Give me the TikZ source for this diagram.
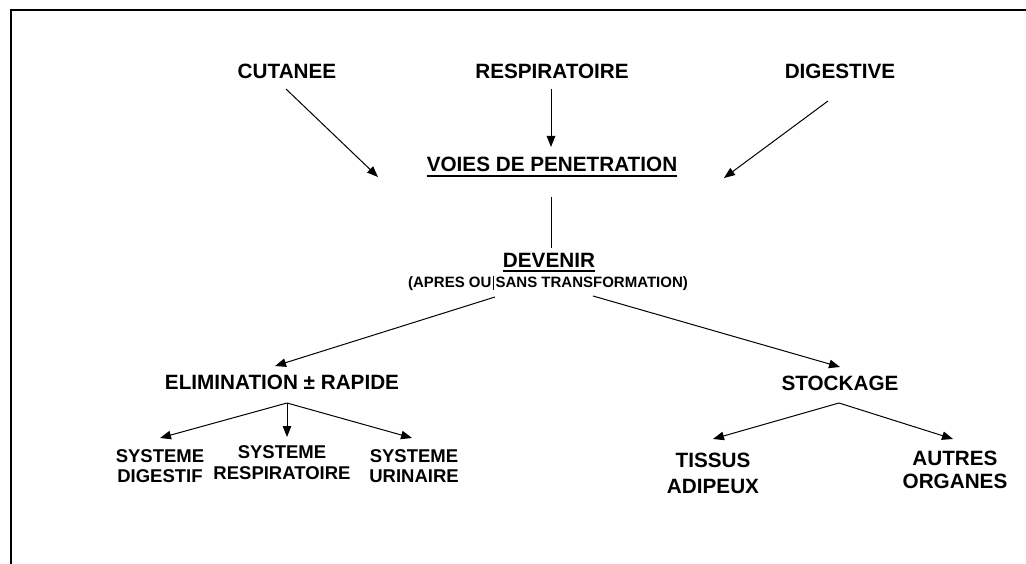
\documentclass[tikz,border=0pt]{standalone}
\usepackage{fontspec}
\setmainfont{Liberation Sans}
\usetikzlibrary{arrows.meta,calc}
\begin{document}
\begin{tikzpicture}[x=1pt,y=-1pt,
  lbl/.style={inner sep=0pt,font=\fontsize{20.7}{20}\selectfont\bfseries},
  two/.style={lbl,align=center},
  sys/.style={inner sep=0pt,align=center,font=\fontsize{18.5}{19.5}\selectfont\bfseries},
  small/.style={inner sep=0pt,font=\fontsize{15}{16}\selectfont\bfseries},
  arr/.style={line width=1pt,-{Triangle[length=11pt,width=8.5pt]}},
  link/.style={line width=1pt},
  ulline/.style={line width=1.8pt},
  frame/.style={line width=2pt}]
\useasboundingbox (0,0) rectangle (1026,564);
\draw[frame] (11,564) -- (11,10) -- (1026,10);

\node[lbl] (cut) at (287,71) {CUTANEE};
\node[lbl] (resp) at (552,71) {RESPIRATOIRE};
\node[lbl] (dig) at (840,71) {DIGESTIVE};
\node[lbl] (voies) at (552,164) {VOIES DE PENETRATION};
\node[lbl] (dev) at (549,260) {DEVENIR};
\node[small] (sub) at (548,283) {(APRES OU\makebox[0.278em]{\rule[-2.5pt]{0.8pt}{14pt}}SANS TRANSFORMATION)};
\node[lbl] (elim) at (282,382) {ELIMINATION ± RAPIDE};
\node[lbl] (stock) at (840,383) {STOCKAGE};
\node[sys] (sdig) at (160,466) {SYSTEME\\DIGESTIF};
\node[sys] (sresp) at (282,463) {SYSTEME\\[1.5pt]RESPIRATOIRE};
\node[sys] (suri) at (414,466) {SYSTEME\\URINAIRE};
\node[two] (tis) at (713,473) {TISSUS\\[6pt]ADIPEUX};
\node[two] (aut) at (955,469.5) {AUTRES\\[3pt]ORGANES};

\draw[ulline] ($(voies.south west)+(0,4.5)$) -- ($(voies.south east)+(0,4.5)$);
\draw[ulline] ($(dev.south west)+(0,3.5)$) -- ($(dev.south east)+(0,3.5)$);

\draw[arr] ($(cut)+(-1,18)$) -- ($(voies)+(-174,13)$);
\draw[arr] ($(resp)+(-1,18)$) -- ($(voies)+(-1,-17)$);
\draw[arr] ($(dig)+(-12,30)$) -- ($(voies)+(172,14)$);
\draw[link] ($(voies)+(-1,33)$) -- ($(dev)+(2,-12)$);
\draw[arr] ($(dev)+(-54,37)$) -- ($(elim)+(-7,-16)$);
\draw[arr] ($(dev)+(44,36)$) -- ($(stock)+(0,-16)$);
\draw[arr] ($(elim)+(5,21)$) -- ($(sdig)+(0,-28)$);
\draw[arr] ($(elim)+(5,21)$) -- ($(sresp)+(5,-26)$);
\draw[arr] ($(elim)+(5,21)$) -- ($(suri)+(-2,-28)$);
\draw[arr] ($(stock)+(-1,20)$) -- ($(tis)+(0,-34)$);
\draw[arr] ($(stock)+(-1,20)$) -- ($(aut)+(-2,-30.5)$);
\end{tikzpicture}
\end{document}
